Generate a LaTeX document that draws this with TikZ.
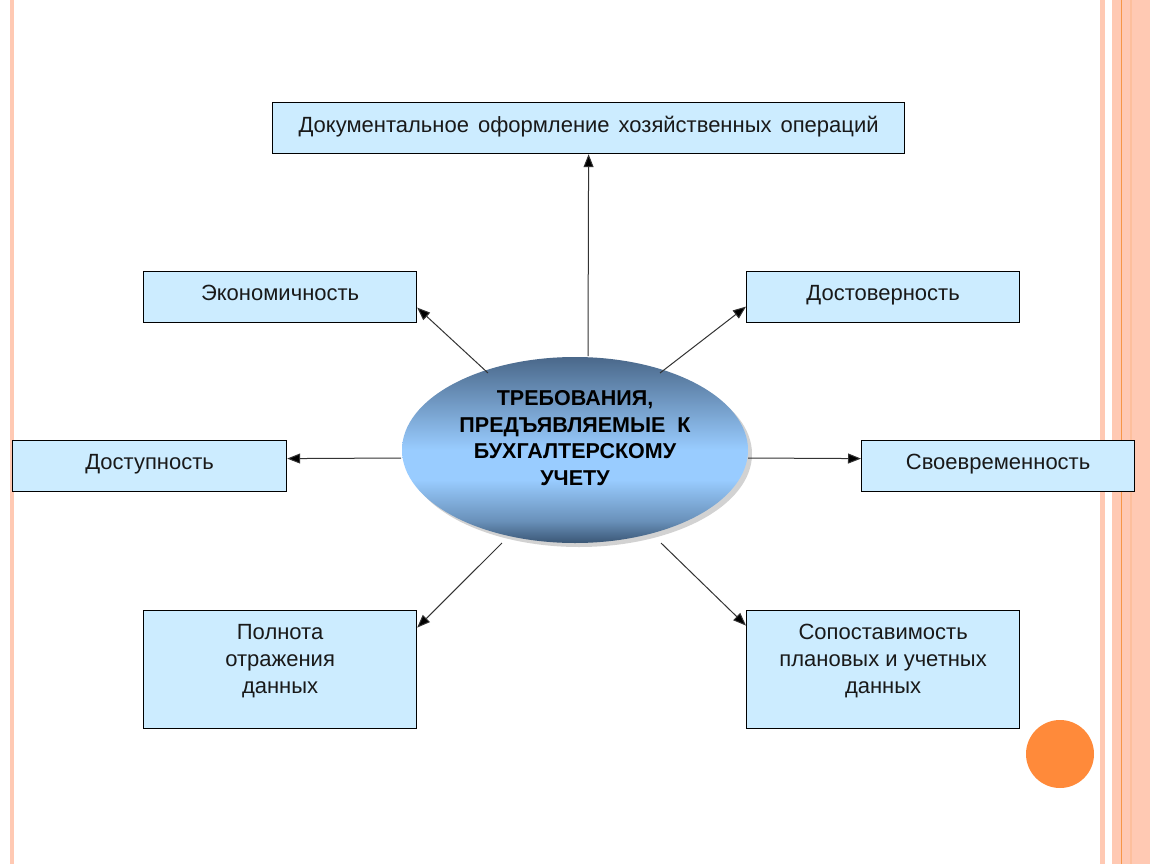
\documentclass[tikz,border=0pt]{standalone}
\usepackage{fontspec}
\setmainfont{Liberation Sans}
\usetikzlibrary{arrows.meta,shadows,shapes.geometric}
\definecolor{boxfill}{HTML}{CCECFF}
\definecolor{salmon}{HTML}{FFC9B3}
\definecolor{orangeline}{HTML}{F79646}
\definecolor{dotc}{HTML}{FF8A3A}
\definecolor{elltop}{HTML}{4A688A}
\definecolor{ellmid}{HTML}{99CCFF}
\definecolor{ellbot}{HTML}{3A5675}
\pgfdeclareverticalshading{ellshade}{100bp}{color(0bp)=(ellbot); color(25bp)=(ellbot); color(31bp)=(ellbot!50!ellmid); color(42bp)=(ellmid); color(50bp)=(ellmid); color(75bp)=(elltop); color(100bp)=(elltop)}
\tikzset{
 box/.style={draw=black, line width=1.2bp, fill=boxfill, anchor=north west, inner sep=0pt},
 lbl/.style={font=\fontsize{22bp}{27bp}\selectfont, align=center, anchor=north, inner sep=0pt, text=black!90},
 arr/.style={draw=black!80, line width=1bp, -{Triangle[length=13bp,width=10bp,fill=black]}},
}
\begin{document}
\begin{tikzpicture}[x=1bp,y=-1bp]
\useasboundingbox (0,0) rectangle (1150,864);
\fill[white] (0,0) rectangle (1150,864);
% decorative stripes
\fill[salmon] (10,0) rectangle (14,864);
\fill[salmon] (1100,0) rectangle (1105,864);
\fill[salmon] (1112,0) rectangle (1150,864);
\fill[salmon!80!orangeline] (1130,0) rectangle (1132,864);
\draw[orangeline, line width=1bp] (1121.5,0) -- (1121.5,864);
\fill[dotc] (1060,754) circle (34);
% boxes
\node[box, minimum width=632bp, minimum height=51bp] (top) at (272,102) {};
\node[box, minimum width=273bp, minimum height=51bp] (eco) at (143,271) {};
\node[box, minimum width=273bp, minimum height=51bp] (dost) at (746,271) {};
\node[box, minimum width=274bp, minimum height=51bp] (dostup) at (12,440) {};
\node[box, minimum width=273bp, minimum height=51bp] (svoe) at (861,440) {};
\node[box, minimum width=273bp, minimum height=118bp] (poln) at (143,610) {};
\node[box, minimum width=273bp, minimum height=118bp] (sopo) at (746,610) {};
\node[lbl] (topt) at ([yshift=-14bp]top.north) {Документальное\hspace{9bp}оформление\hspace{9bp}хозяйственных\hspace{9bp}операций};
\node[lbl] (ecot) at ([yshift=-14bp]eco.north) {Экономичность};
\node[lbl] (dostt) at ([yshift=-14bp]dost.north) {Достоверность};
\node[lbl] (dostupt) at ([yshift=-14bp]dostup.north) {Доступность};
\node[lbl] (svoet) at ([yshift=-14bp]svoe.north) {Своевременность};
\node[lbl] (polnt) at ([yshift=-14bp]poln.north) {Полнота\\отражения\\данных};
\node[lbl] (sopot) at ([yshift=-14bp]sopo.north) {Сопоставимость\\плановых и учетных\\данных};
% central ellipse
\node[ellipse, minimum width=346bp, minimum height=186bp, inner sep=0pt, shading=ellshade,
  drop shadow={shadow xshift=4bp, shadow yshift=-4bp, opacity=0.35}] (ell) at (575,450) {};
\node[font=\fontsize{21.5bp}{26.5bp}\selectfont\bfseries, align=center, inner sep=0pt, text=black] (ellt) at (575,438)
  {ТРЕБОВАНИЯ,\\ПРЕДЪЯВЛЯЕМЫЕ\ \ К\\БУХГАЛТЕРСКОМУ\\УЧЕТУ};
% connector start points near the ellipse
\coordinate (s1) at (588,356);
\coordinate (s2) at (488,373);
\coordinate (s3) at (660,373);
\coordinate (s4) at (401,458);
\coordinate (s5) at (748,458);
\coordinate (s6) at (502,543);
\coordinate (s7) at (661,543);
\draw[arr] (s1) -- (top.south);
\draw[arr] (s2) -- ([yshift=-10.5bp]eco.east);
\draw[arr] (s3) -- ([yshift=-9.5bp]dost.west);
\draw[arr] (s4) -- ([yshift=7.5bp]dostup.east);
\draw[arr] (s5) -- ([yshift=7.5bp]svoe.west);
\draw[arr] (s6) -- ([yshift=42bp]poln.east);
\draw[arr] (s7) -- ([yshift=44bp]sopo.west);
\end{tikzpicture}
\end{document}
